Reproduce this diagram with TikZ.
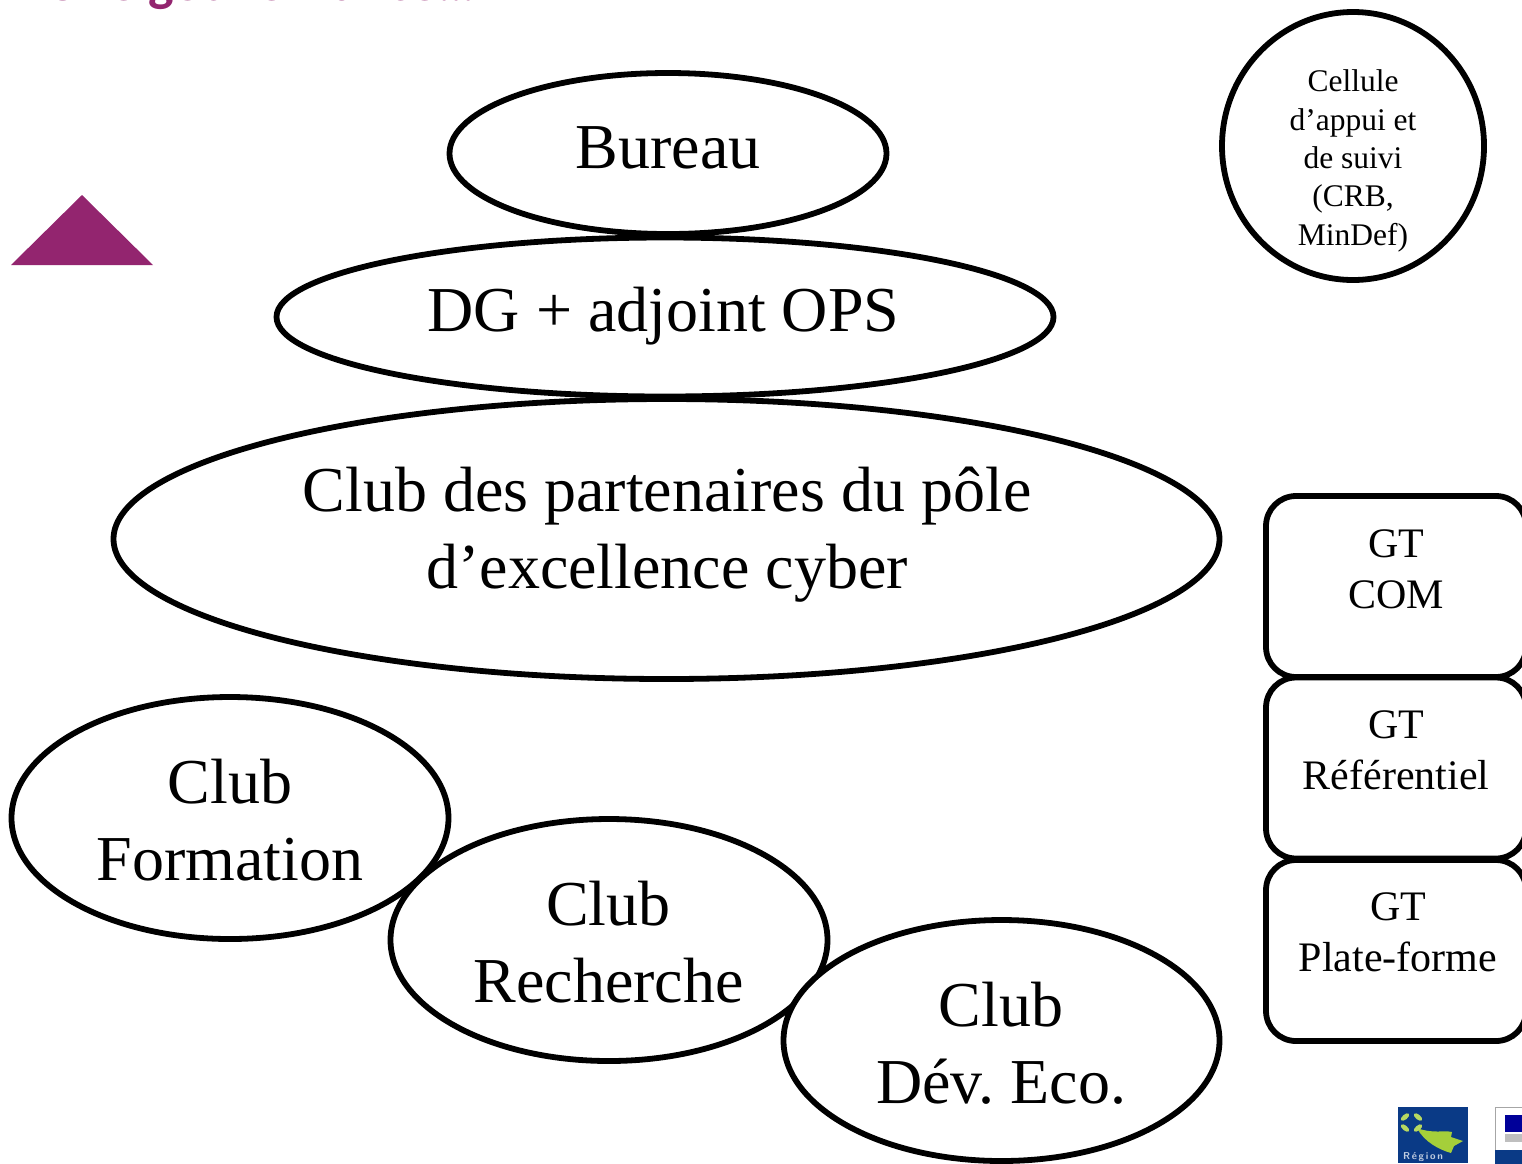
\documentclass[tikz,border=0pt]{standalone}
\usepackage{fontspec}
\setmainfont{Liberation Serif}
\newfontfamily\titlefont{Carlito}
\definecolor{plum}{HTML}{93256F}
\definecolor{logoblue}{HTML}{0A3A86}
\definecolor{logogreen}{HTML}{A5CF3A}
\usetikzlibrary{shapes.geometric}
\tikzset{
  oval/.style={draw=black,fill=white,line width=5.8pt,ellipse,inner sep=0pt,outer sep=0pt},
  gtbox/.style={draw=black,fill=white,line width=5.8pt,rounded corners=30pt,inner sep=0pt,minimum width=260pt,minimum height=181pt},
  big/.style={font=\fontsize{64}{77}\selectfont\frenchspacing,align=center,inner sep=0pt,anchor=base},
  mid/.style={font=\fontsize{42}{51}\selectfont,align=center,inner sep=0pt,anchor=base},
  small/.style={font=\fontsize{31.5}{38.3}\selectfont,align=center,inner sep=0pt,anchor=base},
}
\begin{document}
\begin{tikzpicture}[x=1pt,y=-1pt]
\useasboundingbox (0,0) rectangle (1522,1163);
\begin{scope}
\clip (0,0) rectangle (1522,1163);
\node[font=\titlefont\bfseries\fontsize{54}{60}\selectfont,text=plum,anchor=base west,inner sep=0pt] (title) at (45,0.5) {Une gouvernance…};
\node[oval,minimum width=437pt,minimum height=161pt] (bureau) at (668,153.5) {};
\node[oval,minimum width=777pt,minimum height=159pt] (dg) at (665,317) {};
\node[oval,minimum width=1106pt,minimum height=280pt] (club) at (666.5,539) {};
\node[oval,minimum width=437pt,minimum height=242pt] (form) at (230,818) {};
\node[oval,minimum width=437pt,minimum height=242pt] (rech) at (609,940) {};
\node[oval,minimum width=436pt,minimum height=241pt] (dev) at (1001.5,1040.5) {};
\node[oval,minimum width=262pt,minimum height=268pt] (cell) at (1353,146) {};
\node[gtbox] (gt1) at (1396,586.5) {};
\node[gtbox] (gt2) at (1396,768) {};
\node[gtbox] (gt3) at (1396,950.5) {};
\fill[plum] (11,265) -- (82,195) -- (153,265) -- cycle;
% logos
\fill[logoblue] (1398,1107) rectangle (1468,1163);
\fill[logogreen] (1417,1128) .. controls (1432,1134) and (1445,1130) .. (1452,1132) -- (1451,1137) -- (1463,1141) -- (1454,1146) -- (1451,1153) .. controls (1440,1150) and (1424,1142) .. (1417,1128) -- cycle;
\foreach \a/\b/\r in {1405/1117/40,1418/1117/-40,1405/1128/-40,1418/1128/40}
  \fill[logogreen!80!white,rotate around={\r:(\a,\b)}] (\a,\b) ellipse (5pt and 2.5pt);
\node[font=\fontsize{10}{10}\selectfont\sffamily\bfseries,text=white!75!logoblue,inner sep=0pt,anchor=base west] (logotext) at (1403,1159) {R\,é\,g\,i\,o\,n};
\draw[gray!70,line width=1pt,fill=white] (1495,1107) rectangle (1530,1170);
\fill[blue!60!black] (1505,1115) rectangle (1530,1132);
\fill[gray!50] (1505,1134) rectangle (1530,1142);
\fill[logoblue] (1495,1150) rectangle (1530,1170);
\end{scope}
\node[big] (t1) at (668,168.5) {Bureau};
\node[big] (t2) at (663.5,331) {DG + adjoint OPS};
\node[big] (t3) at (667,588.5) {Club des partenaires du pôle\\d’excellence cyber};
\node[big] (t4) at (230,880.5) {Club\\Formation};
\node[big] (t5) at (608.5,1002.5) {Club\\Recherche};
\node[big] (t6) at (1001,1103.5) {Club\\Dév. Eco.};
\node[mid] (t7) at (1396,608) {GT\\COM};
\node[mid] (t8) at (1396,789) {GT\\Référentiel};
\node[mid] (t9) at (1398,971) {GT\\Plate-forme};
\node[small] (t10) at (1353,245) {Cellule\\d’appui et\\de suivi\\(CRB,\\MinDef)};
\end{tikzpicture}
\end{document}
